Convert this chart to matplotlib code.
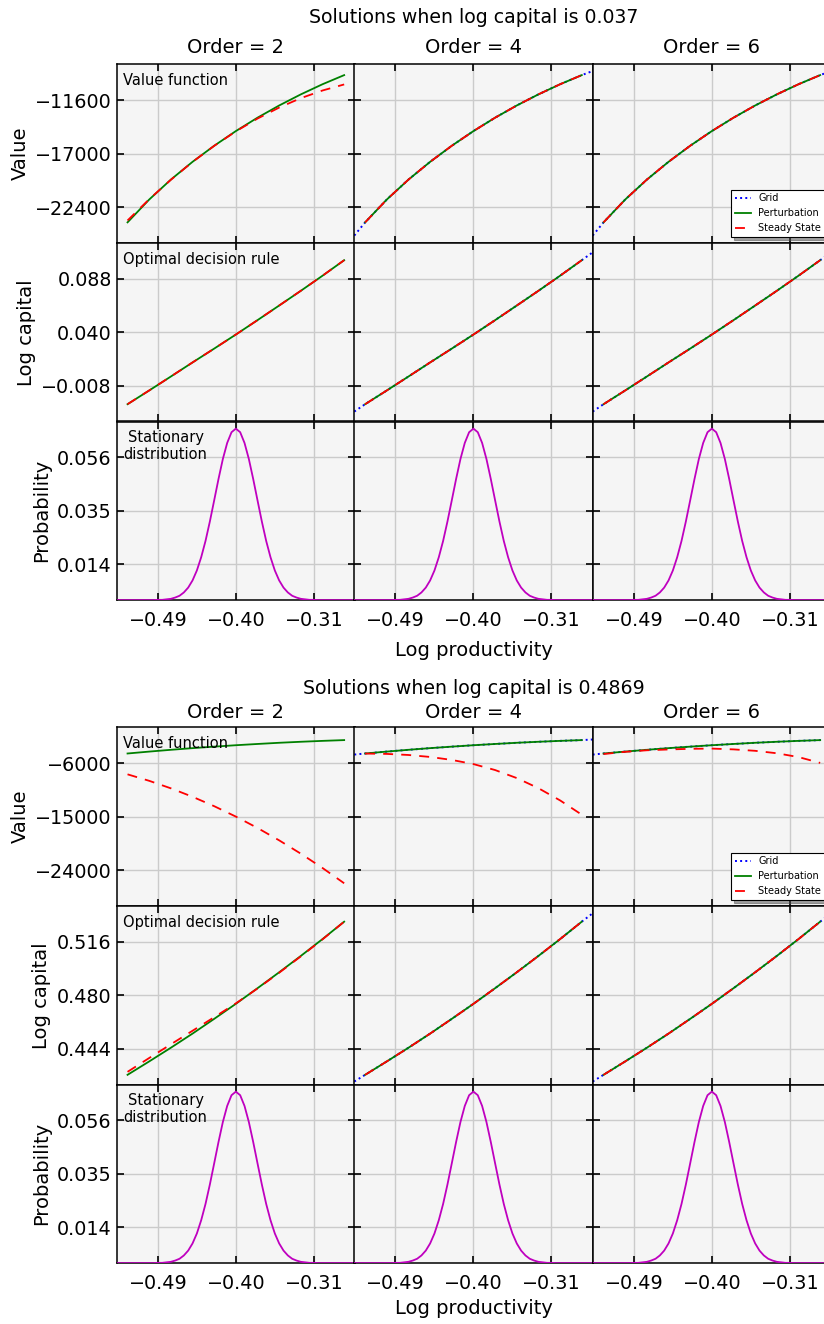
import matplotlib
matplotlib.use("Agg")
import matplotlib.pyplot as plt
from matplotlib.ticker import FixedLocator, FuncFormatter

# ---------------- data ----------------
orders = [2, 4, 6]
log_capital_levels = ["0.037", "0.4869"]
row_labels = ["Value function", "Optimal decision rule", "Stationary\ndistribution"]
y_labels = ["Value", "Log capital", "Probability"]
x_ticks = [-0.49, -0.40, -0.31]

# log productivity points for the perturbation / steady-state solutions
z = [-0.525, -0.5, -0.475, -0.45, -0.425, -0.4, -0.375, -0.35, -0.325, -0.3, -0.275]
# grid solution covers a slightly wider range
z_grid = [-0.5375, -0.525, -0.5, -0.475, -0.45, -0.425, -0.4, -0.375, -0.35,
          -0.325, -0.3, -0.275, -0.2625]
# stationary distribution support
z_prob = [-0.54, -0.535, -0.53, -0.525, -0.52, -0.515, -0.51, -0.505, -0.5, -0.495,
          -0.49, -0.485, -0.48, -0.475, -0.47, -0.465, -0.46, -0.455, -0.45, -0.445,
          -0.44, -0.435, -0.43, -0.425, -0.42, -0.415, -0.41, -0.405, -0.4, -0.395,
          -0.39, -0.385, -0.38, -0.375, -0.37, -0.365, -0.36, -0.355, -0.35, -0.345,
          -0.34, -0.335, -0.33, -0.325, -0.32, -0.315, -0.31, -0.305, -0.3, -0.295,
          -0.29, -0.285, -0.28, -0.275, -0.27, -0.265, -0.26]
stationary_prob = [0, 0, 0, 0, 0, 0, 0, 0, 0, 0,
                   0.0001, 0.0001, 0.0003, 0.0005, 0.0010, 0.0017, 0.0030, 0.0049, 0.0077, 0.0116,
                   0.0168, 0.0232, 0.0308, 0.0391, 0.0475, 0.0553, 0.0616, 0.0658, 0.0672, 0.0658,
                   0.0616, 0.0553, 0.0475, 0.0391, 0.0308, 0.0232, 0.0168, 0.0116, 0.0077, 0.0049,
                   0.0030, 0.0017, 0.0010, 0.0005, 0.0003, 0.0001, 0.0001, 0, 0, 0,
                   0, 0, 0, 0, 0, 0, 0]

# ---- log capital = 0.037 ----
g1_value_pert = [-23930, -21630, -19620, -17830, -16210, -14730, -13380, -12150, -11030, -10010, -9090]
g1_value_ss_o2 = [-23740, -21600, -19640, -17840, -16220, -14760, -13470, -12360, -11410, -10640, -10030]
g1_value_ss_o4 = [-23930, -21630, -19620, -17830, -16210, -14730, -13380, -12150, -11030, -10010, -9090]
g1_value_ss_o6 = [-23930, -21630, -19620, -17830, -16210, -14730, -13380, -12150, -11030, -10010, -9090]
g1_value_grid = [-25260, -23930, -21630, -19620, -17830, -16210, -14730, -13380, -12150, -11030,
                 -10010, -9090, -8680]
g1_policy_pert = [-0.0245, -0.0122, 0.0003, 0.0129, 0.0253, 0.0379, 0.0508, 0.0639, 0.0771, 0.0906, 0.1045]
g1_policy_ss_o2 = [-0.0245, -0.0122, 0.0003, 0.0129, 0.0253, 0.0379, 0.0508, 0.0639, 0.0771, 0.0906, 0.1045]
g1_policy_ss_o4 = [-0.0245, -0.0122, 0.0003, 0.0129, 0.0253, 0.0379, 0.0508, 0.0639, 0.0771, 0.0906, 0.1045]
g1_policy_ss_o6 = [-0.0245, -0.0122, 0.0003, 0.0129, 0.0253, 0.0379, 0.0508, 0.0639, 0.0771, 0.0906, 0.1045]
g1_policy_grid = [-0.0311, -0.0245, -0.0122, 0.0003, 0.0129, 0.0253, 0.0379, 0.0508, 0.0639, 0.0771,
                  0.0906, 0.1045, 0.1115]
g1_ylims = [(-26000, -8000), (-0.04, 0.12), (0, 0.07)]
g1_yticks = [[-22400, -17000, -11600], [-0.008, 0.040, 0.088], [0.014, 0.035, 0.056]]

# ---- log capital = 0.4869 ----
g2_value_pert = [-4400, -4080, -3780, -3500, -3250, -3010, -2800, -2600, -2430, -2280, -2150]
g2_value_ss_o2 = [-7900, -8990, -10250, -11670, -13250, -15000, -16910, -18990, -21230, -23630, -26200]
g2_value_ss_o4 = [-4410, -4470, -4650, -4980, -5480, -6180, -7180, -8530, -10230, -12280, -14680]
g2_value_ss_o6 = [-4490, -4120, -3860, -3725, -3615, -3575, -3710, -3950, -4360, -5000, -5980]
g2_value_grid = [-4580, -4400, -4080, -3780, -3500, -3250, -3010, -2800, -2600, -2430, -2280,
                 -2150, -2050]
g2_policy_pert = [0.4265, 0.4355, 0.4447, 0.4542, 0.4641, 0.4742, 0.4847, 0.4954, 0.5064, 0.5177, 0.5294]
g2_policy_ss_o2 = [0.4285, 0.4378, 0.4470, 0.4561, 0.4652, 0.4745, 0.4845, 0.4951, 0.5061, 0.5175, 0.5294]
g2_policy_ss_o4 = [0.4265, 0.4355, 0.4447, 0.4542, 0.4641, 0.4742, 0.4847, 0.4954, 0.5064, 0.5177, 0.5294]
g2_policy_ss_o6 = [0.4265, 0.4355, 0.4447, 0.4542, 0.4641, 0.4742, 0.4847, 0.4954, 0.5064, 0.5177, 0.5294]
g2_policy_grid = [0.4220, 0.4265, 0.4355, 0.4447, 0.4542, 0.4641, 0.4742, 0.4847, 0.4954, 0.5064,
                  0.5177, 0.5294, 0.5350]
g2_ylims = [(-30000, 0), (0.42, 0.54), (0, 0.07)]
g2_yticks = [[-24000, -15000, -6000], [0.444, 0.480, 0.516], [0.014, 0.035, 0.056]]

groups = [
    dict(level=log_capital_levels[0], value_pert=g1_value_pert,
         value_ss=[g1_value_ss_o2, g1_value_ss_o4, g1_value_ss_o6], value_grid=g1_value_grid,
         policy_pert=g1_policy_pert,
         policy_ss=[g1_policy_ss_o2, g1_policy_ss_o4, g1_policy_ss_o6], policy_grid=g1_policy_grid,
         ylims=g1_ylims, yticks=g1_yticks),
    dict(level=log_capital_levels[1], value_pert=g2_value_pert,
         value_ss=[g2_value_ss_o2, g2_value_ss_o4, g2_value_ss_o6], value_grid=g2_value_grid,
         policy_pert=g2_policy_pert,
         policy_ss=[g2_policy_ss_o2, g2_policy_ss_o4, g2_policy_ss_o6], policy_grid=g2_policy_grid,
         ylims=g2_ylims, yticks=g2_yticks),
]

# ---------------- layout ----------------
W, H = 824, 1324
fig = plt.figure(figsize=(W / 100, H / 100), dpi=100)
col_left = [116.7, 354.3, 592.7]
col_w = 238.3
group_top = [64.3, 727.3]
row_h = 178.6
xlim = (-0.5375, -0.2625)
suptitle_y = [17.5, 688]
order_title_y = [47.5, 712.5]
xlabel_y = [650, 1308]


def umin(s):
    return s.replace("-", "\u2212")


fmt_int = FuncFormatter(lambda v, p: umin(f"{v:.0f}"))
fmt_3 = FuncFormatter(lambda v, p: umin(f"{v:.3f}"))
fmt_2 = FuncFormatter(lambda v, p: umin(f"{v:.2f}"))

tick_fs = 13.8
for gi, g in enumerate(groups):
    top = group_top[gi]
    for r in range(3):
        for c in range(3):
            pl = col_left[c]
            pt = top + r * row_h
            ax = fig.add_axes([pl / W, 1 - (pt + row_h) / H, col_w / W, row_h / H])
            ax.set_facecolor("#f5f5f5")
            for s in ax.spines.values():
                s.set_color("black")
                s.set_linewidth(1.1)
            if r == 0:
                if c > 0:
                    ax.plot(z_grid, g["value_grid"], color="b", ls=":", lw=1.4, label="Grid", zorder=2)
                ax.plot(z, g["value_pert"], color="g", ls="-", lw=1.3, label="Perturbation", zorder=3)
                ax.plot(z, g["value_ss"][c], color="r", ls=(0, (5.5, 4.5)), lw=1.3,
                        label="Steady State", zorder=4)
            elif r == 1:
                if c > 0:
                    ax.plot(z_grid, g["policy_grid"], color="b", ls=":", lw=1.4, zorder=2)
                ax.plot(z, g["policy_pert"], color="g", ls="-", lw=1.3, zorder=3)
                ax.plot(z, g["policy_ss"][c], color="r", ls=(0, (5.5, 4.5)), lw=1.3, zorder=4)
            else:
                ax.plot(z_prob, stationary_prob, color="m", lw=1.3, zorder=3)

            ax.set_xlim(*xlim)
            ax.set_ylim(*g["ylims"][r])
            ax.xaxis.set_major_locator(FixedLocator(x_ticks))
            ax.yaxis.set_major_locator(FixedLocator(g["yticks"][r]))
            ax.xaxis.set_major_formatter(fmt_2)
            ax.yaxis.set_major_formatter(fmt_int if r == 0 else fmt_3)
            ax.grid(True, color="#cbcbcb", lw=1.0, zorder=0)
            ax.set_axisbelow(True)
            ax.tick_params(direction="in", length=5, width=1.2, top=True, right=True,
                           labelsize=tick_fs, colors="black")
            ax.tick_params(axis="x", pad=8)
            ax.tick_params(labelleft=(c == 0), labelbottom=(r == 2))
            if c == 0:
                ax.set_ylabel(y_labels[r], fontsize=14)
                if r < 2:
                    ax.text(0.028, 0.95, row_labels[r], transform=ax.transAxes,
                            ha="left", va="top", fontsize=10.5)
                else:
                    ax.text(0.205, 0.95, row_labels[r], transform=ax.transAxes,
                            ha="center", va="top", fontsize=10.5, multialignment="center",
                            linespacing=1.1)
            if r == 0:
                fig.text((pl + col_w / 2) / W, 1 - order_title_y[gi] / H, f"Order = {orders[c]}",
                         ha="center", va="center", fontsize=14)
            if r == 0 and c == 2:
                leg = ax.legend(loc="lower right", fontsize=7, shadow=True, fancybox=False,
                                framealpha=1, edgecolor="black", handlelength=1.6,
                                borderaxespad=0.6)
                leg.get_frame().set_linewidth(0.8)
    mid = (col_left[0] + col_left[2] + col_w) / 2
    fig.text(mid / W, 1 - suptitle_y[gi] / H, f"Solutions when log capital is {g['level']}",
             ha="center", va="center", fontsize=13.6)
    fig.text(mid / W, 1 - xlabel_y[gi] / H, "Log productivity",
             ha="center", va="center", fontsize=14)

fig.savefig("out.png", dpi=100)
